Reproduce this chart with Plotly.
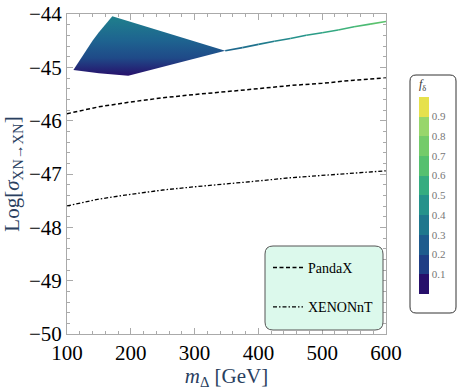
import plotly.graph_objects as go
from plotly.colors import sample_colorscale

# masses (GeV)
m_grid = [100, 150, 200, 250, 300, 350, 400, 450, 500, 550, 600]
pandax = [-45.87, -45.74, -45.65, -45.57, -45.51, -45.46, -45.40, -45.34, -45.30, -45.24, -45.20]
xenonnt = [-47.60, -47.47, -47.38, -47.30, -47.24, -47.19, -47.13, -47.07, -47.03, -46.98, -46.94]

# allowed region (outline) and the thin tail
region_m = [110, 120, 130, 140, 150, 160, 171, 348, 215, 196, 150, 110]
region_log = [-45.05, -44.86, -44.68, -44.50, -44.34, -44.19, -44.04, -44.69, -45.11, -45.16, -45.11, -45.05]
tail_m = [348, 375, 400, 425, 450, 475, 500, 525, 550, 575, 600]
tail_log = [-44.69, -44.63, -44.57, -44.51, -44.46, -44.40, -44.35, -44.30, -44.24, -44.19, -44.14]
tail_f = [0.30, 0.33, 0.37, 0.41, 0.45, 0.49, 0.53, 0.58, 0.62, 0.67, 0.72]

# colour bins of f_delta
bin_colors = ['#27106b', '#1f3e85', '#1e5b8d', '#1f778d', '#25928b',
              '#35ac80', '#55c06f', '#74cb6a', '#98d66b', '#e6e14c']
cbar_ticks = [0.1, 0.2, 0.3, 0.4, 0.5, 0.6, 0.7, 0.8, 0.9]

cont_scale = [[(i + 0.5) / 10, c] for i, c in enumerate(bin_colors)]
cont_scale = [[0, bin_colors[0]]] + cont_scale + [[1, bin_colors[-1]]]
disc_scale = []
for i, c in enumerate(bin_colors):
    disc_scale += [[i / 10, c], [(i + 1) / 10, c]]

W, H = 457, 390
L, R, T, B = 67, 71, 14, 56
pw, ph = W - L - R, H - T - B

def px2paper(x, y):
    return (x - L) / pw, (H - B - y) / ph

def round_box(x0, y0, x1, y1, r):
    # rounded rectangle in paper coords from pixel corners
    a, b = px2paper(x0, y0)
    c, d = px2paper(x1, y1)
    rx, ry = r / pw, r / ph
    return (f"M {a+rx} {b} L {c-rx} {b} Q {c} {b} {c} {b-ry} "
            f"L {c} {d+ry} Q {c} {d} {c-rx} {d} L {a+rx} {d} "
            f"Q {a} {d} {a} {d+ry} L {a} {b-ry} Q {a} {b} {a+rx} {b} Z")

fig = go.Figure()

fig.add_trace(go.Scatter(
    x=region_m, y=region_log, mode="lines", fill="toself",
    line=dict(width=0),
    fillgradient=dict(type="vertical", start=-45.16, stop=-44.04,
                      colorscale=[[0, '#27106b'], [0.3, '#1f4a88'], [0.6, '#1e6490'], [1, '#1f808c']]),
    showlegend=False, hoverinfo="skip"))

seg_cols = sample_colorscale(cont_scale, tail_f)
for i in range(len(tail_m) - 1):
    fig.add_trace(go.Scatter(
        x=tail_m[i:i + 2], y=tail_log[i:i + 2], mode="lines",
        line=dict(color=seg_cols[i], width=1.6),
        showlegend=False, hoverinfo="skip"))

fig.add_trace(go.Scatter(x=m_grid, y=pandax, mode="lines", name="PandaX",
                         legendgroup="a",
                         line=dict(color="black", width=1.5, dash="4px,2.5px")))
fig.add_trace(go.Scatter(x=m_grid, y=xenonnt, mode="lines", name="XENONnT",
                         legendgroup="b",
                         line=dict(color="black", width=1.3, dash="4px,2px,1.5px,2px")))

cx, cy = px2paper(419, 185)
fig.add_trace(go.Scatter(
    x=[None], y=[None], mode="markers", showlegend=False,
    marker=dict(color=[0], cmin=0, cmax=1, colorscale=disc_scale, showscale=True,
                colorbar=dict(x=cx, xanchor="left", y=cy, yanchor="middle",
                              len=218, lenmode="pixels", thickness=10,
                              xpad=0, ypad=0, outlinewidth=0,
                              tickvals=cbar_ticks, ticks="",
                              tickfont=dict(family="Liberation Serif", size=11, color="#777"),
                              title=dict(text="<i>f</i><sub>δ</sub>", side="top",
                                         font=dict(family="Liberation Serif", size=12, color="#333"))))))

axis_common = dict(showgrid=False, zeroline=False, showline=True, linecolor="#aaa",
                   linewidth=1, mirror="allticks", ticks="inside", ticklen=6,
                   tickcolor="#aaa", automargin=False,
                   tickfont=dict(family="Liberation Serif", size=21, color="black"))

fig.update_layout(
    width=W, height=H, margin=dict(l=L, r=R, t=T, b=B, autoexpand=False),
    plot_bgcolor="white", paper_bgcolor="white",
    xaxis=dict(range=[100, 600], dtick=100,
               minor=dict(dtick=20, ticks="inside", ticklen=3, tickcolor="#aaa"),
               title=dict(text="<i>m</i><sub>Δ</sub> [GeV]", standoff=1,
                          font=dict(family="Liberation Serif", size=21)),
               **axis_common),
    yaxis=dict(range=[-50, -44], dtick=1,
               minor=dict(dtick=0.2, ticks="inside", ticklen=3, tickcolor="#aaa"),
               title=dict(text="Log[<i>σ</i><sub>XN→XN</sub>]", standoff=4,
                          font=dict(family="Liberation Serif", size=21)),
               **axis_common),
    legend=dict(x=px2paper(268, 0)[0], y=px2paper(0, 252)[1], xanchor="left", yanchor="top",
                bgcolor="rgba(0,0,0,0)", tracegroupgap=18,
                font=dict(family="Liberation Serif", size=14, color="black")),
    shapes=[
        dict(type="path", xref="paper", yref="paper", layer="above",
             path=round_box(265, 246, 383, 330, 8),
             fillcolor="#dcf9ec", line=dict(color="#555", width=1)),
        dict(type="path", xref="paper", yref="paper", layer="above",
             path=round_box(410, 75, 456, 313, 6),
             fillcolor="white", line=dict(color="#333", width=1)),
    ],
)

fig.write_html("out.html", config={"displayModeBar": False},
               post_script="document.body.style.margin='0px';")
